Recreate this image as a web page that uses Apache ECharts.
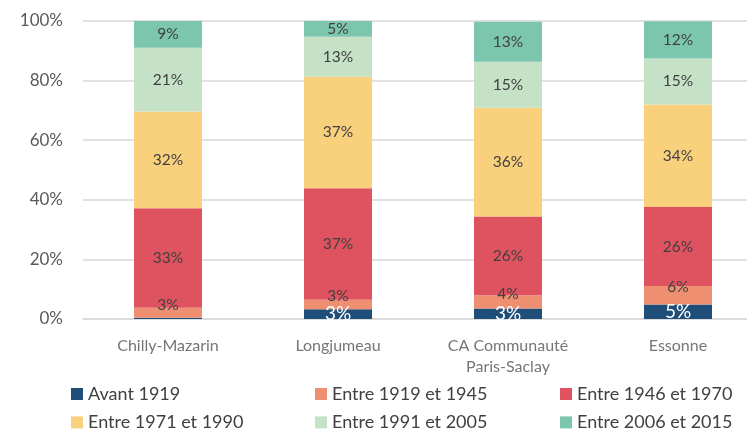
<!DOCTYPE html>
<html>
<head>
<meta charset="utf-8">
<script src="https://cdn.jsdelivr.net/npm/echarts@6/dist/echarts.min.js"></script>
<style>
  html, body { margin: 0; padding: 0; background: #ffffff; }
  #chart { width: 747px; height: 432px; }
</style>
</head>
<body>
<div id="chart"></div>
<script>
// Territories compared
const categories = ['Chilly-Mazarin', 'Longjumeau', 'CA Communauté\nParis-Saclay', 'Essonne'];

// Share of dwellings by construction period (%)
const avant1919   = [0.4, 3.3, 3.49, 4.9];
const de1919a1945 = [3.4, 3.2, 4.49, 6.2];
const de1946a1970 = [33.4, 37.4, 26.45, 26.45];
const de1971a1990 = [32.4, 37.4, 36.45, 34.45];
const de1991a2005 = [21.4, 13.4, 15.45, 15.45];
const de2006a2015 = [9.0, 5.3, 13.45, 12.45];

const seriesNames = ['Avant 1919', 'Entre 1919 et 1945', 'Entre 1946 et 1970',
                     'Entre 1971 et 1990', 'Entre 1991 et 2005', 'Entre 2006 et 2015'];
const seriesValues = [avant1919, de1919a1945, de1946a1970, de1971a1990, de1991a2005, de2006a2015];
const colors = ['#1F4E79', '#EE8F72', '#DF5360', '#F9D07B', '#C5E2C7', '#7DC6AE'];

// Y axis ticks
const yTicks = [0, 20, 40, 60, 80, 100];

const FONT = 'Lato, "Open Sans", sans-serif';

const chart = echarts.init(document.getElementById('chart'), null, { renderer: 'canvas' });

const series = seriesNames.map((name, i) => ({
  name,
  type: 'bar',
  stack: 'total',
  barWidth: 68,
  data: seriesValues[i],
  itemStyle: { color: colors[i] },
  label: {
    show: true,
    position: 'inside',
    offset: i === 1 ? [0, -8] : [0, 0],
    color: i === 0 ? '#ffffff' : '#404040',
    fontFamily: FONT,
    fontSize: i === 0 ? 19 : 15.5,
    formatter: p => (p.value < 1 ? '' : Math.round(p.value) + '%')
  },
  emphasis: { disabled: true }
}));

// Three legend columns, two rows each
const legendCols = [
  { left: 71, items: [seriesNames[0], seriesNames[3]] },
  { left: 315, items: [seriesNames[1], seriesNames[4]] },
  { left: 560, items: [seriesNames[2], seriesNames[5]] }
];

chart.setOption({
  animation: false,
  backgroundColor: '#ffffff',
  grid: {
    left: 83, top: 21, width: 680, height: 298,
    containLabel: false,
    outerBoundsMode: 'none'
  },
  legend: legendCols.map(c => ({
    data: c.items,
    left: c.left,
    top: 384,
    width: 200,
    height: 80,
    orient: 'vertical',
    itemWidth: 12,
    itemHeight: 12,
    itemGap: 8.4,
    icon: 'rect',
    padding: 0,
    selectedMode: false,
    textStyle: { color: '#404040', fontFamily: FONT, fontSize: 18, lineHeight: 20 }
  })),
  xAxis: {
    type: 'category',
    data: categories,
    axisLine: { show: true, lineStyle: { color: '#D9D9D9', width: 1.5 } },
    axisTick: { show: false },
    axisLabel: {
      color: '#767676',
      fontFamily: FONT,
      fontSize: 16,
      lineHeight: 21,
      margin: 16,
      interval: 0
    }
  },
  yAxis: {
    type: 'value',
    min: yTicks[0],
    max: yTicks[yTicks.length - 1],
    interval: yTicks[1] - yTicks[0],
    axisLine: { show: false },
    axisTick: { show: false },
    splitLine: { lineStyle: { color: '#D9D9D9', width: 1.5 } },
    axisLabel: {
      color: '#595959',
      fontFamily: FONT,
      fontSize: 17,
      margin: 20,
      formatter: v => v + '%'
    }
  },
  series
});
</script>
</body>
</html>
